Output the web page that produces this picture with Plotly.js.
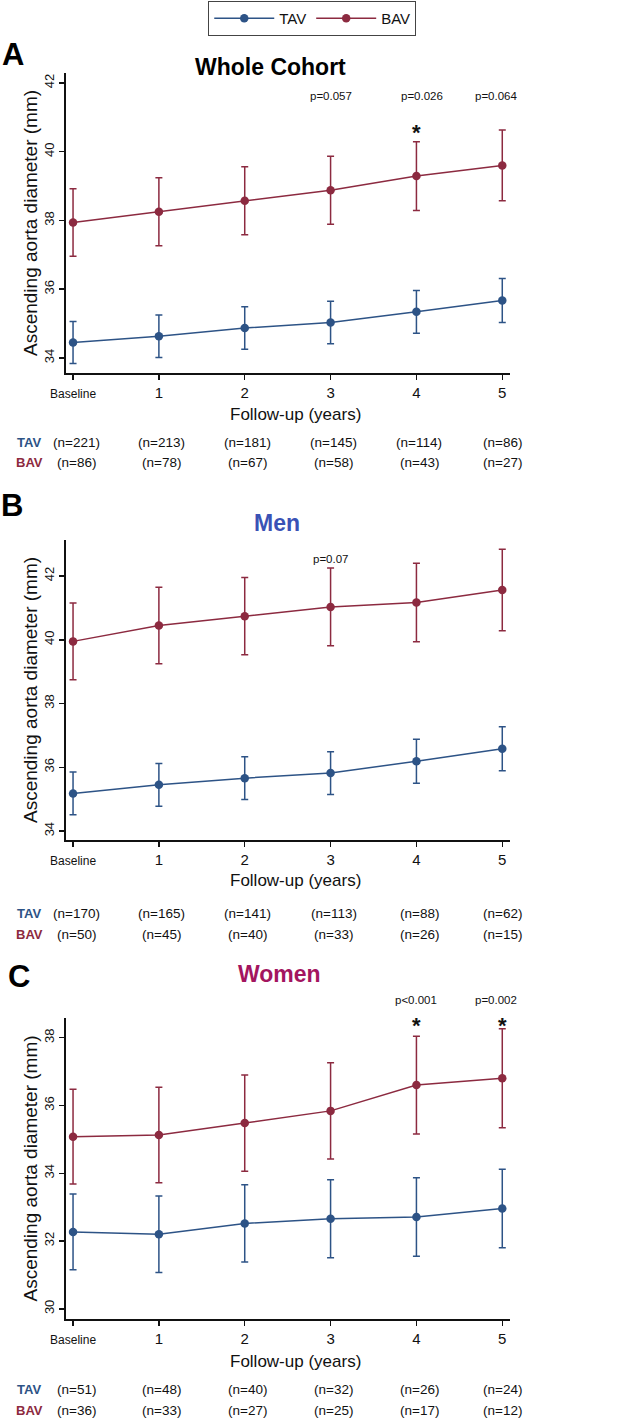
<!DOCTYPE html>
<html><head><meta charset="utf-8">
<script src="https://cdn.plot.ly/plotly-3.0.1.min.js"></script>
<style>html,body{margin:0;padding:0;background:#fff}</style>
</head><body><div id="chart" style="width:622px;height:1420px"></div>
<script>
// ---- data ----
const years = [0, 1, 2, 3, 4, 5];
const tickLabels = ['Baseline', '1', '2', '3', '4', '5'];

// Panel A: whole cohort
const tavA = [34.45, 34.63, 34.87, 35.03, 35.34, 35.67];
const tavAErr = [0.61, 0.62, 0.62, 0.62, 0.62, 0.64];
const bavA = [37.94, 38.25, 38.57, 38.88, 39.29, 39.60];
const bavAErr = [0.98, 0.99, 0.99, 0.99, 1.00, 1.03];
const nTavA = [221, 213, 181, 145, 114, 86];
const nBavA = [86, 78, 67, 58, 43, 27];

// Panel B: men
const tavB = [35.18, 35.45, 35.66, 35.82, 36.19, 36.58];
const tavBErr = [0.67, 0.67, 0.67, 0.67, 0.69, 0.69];
const bavB = [39.95, 40.45, 40.74, 41.03, 41.17, 41.56];
const bavBErr = [1.20, 1.20, 1.21, 1.22, 1.23, 1.28];
const nTavB = [170, 165, 141, 113, 88, 62];
const nBavB = [50, 45, 40, 33, 26, 15];

// Panel C: women
const tavC = [32.27, 32.20, 32.52, 32.66, 32.71, 32.96];
const tavCErr = [1.12, 1.13, 1.14, 1.15, 1.16, 1.16];
const bavC = [35.08, 35.13, 35.48, 35.84, 36.60, 36.80];
const bavCErr = [1.40, 1.41, 1.42, 1.42, 1.44, 1.46];
const nTavC = [51, 48, 40, 32, 26, 24];
const nBavC = [36, 33, 27, 25, 17, 12];

// p-values: [year, label, star]
const pA = [[3, 'p=0.057', false], [4, 'p=0.026', true], [5, 'p=0.064', false]];
const pB = [[3, 'p=0.07', false]];
const pC = [[4, 'p<0.001', true], [5, 'p=0.002', true]];

const panelTitles = ['Whole Cohort', 'Men', 'Women'];
const panelLetters = ['A', 'B', 'C'];
const seriesNames = ['TAV', 'BAV'];
const xTitle = 'Follow-up (years)';
const yTitle = 'Ascending aorta diameter (mm)';

// ---- styles ----
const W = 622, H = 1420;
const px = v => v / W;
const py = v => 1 - v / H;
const C_TAV = '#2d5386';
const C_BAV = '#8c2a40';
const FONT = '"Liberation Sans", Arial, Helvetica, sans-serif';
const titleColors = ['#000000', '#3a52b5', '#a3155f'];

const panels = [
  {tav: tavA, tavErr: tavAErr, bav: bavA, bavErr: bavAErr, nT: nTavA, nB: nBavA, p: pA,
   top: 73, bot: 373, yr: [33.56, 42.29], titleX: 270, titleY: 67, letterY: 55, letterX: 13,
   nRowT: 442, nRowB: 462, pY: 96, starY: 133, xTitleY: 414},
  {tav: tavB, tavErr: tavBErr, bav: bavB, bavErr: bavBErr, nT: nTavB, nB: nBavB, p: pB,
   top: 540, bot: 840, yr: [33.72, 43.13], titleX: 277, titleY: 523, letterY: 506, letterX: 12,
   nRowT: 913, nRowB: 934, pY: 559, starY: 0, xTitleY: 881},
  {tav: tavC, tavErr: tavCErr, bav: bavC, bavErr: bavCErr, nT: nTavC, nB: nBavC, p: pC,
   top: 1018, bot: 1319, yr: [29.7, 38.58], titleX: 279, titleY: 974, letterY: 976, letterX: 19,
   nRowT: 1389, nRowB: 1410, pY: 1000, starY: 1025, xTitleY: 1361}
];

const traces = [];
const layout = {
  width: W, height: H,
  margin: {l: 0, r: 0, t: 0, b: 0},
  paper_bgcolor: '#fff', plot_bgcolor: '#fff',
  font: {family: FONT, color: '#111'},
  showlegend: true,
  legend: {orientation: 'h', x: 0.502, xanchor: 'center', y: py(1), yanchor: 'top',
           bordercolor: '#444', borderwidth: 1, font: {size: 15, color: '#111'},
           itemwidth: 60, tracegroupgap: 0},
  annotations: []
};

const tickText = tickLabels.map(t => t === 'Baseline' ? '<span style="font-size:12px">' + t + '</span>' : t);

function ann(o) {
  layout.annotations.push(Object.assign({showarrow: false, xanchor: 'center', yanchor: 'middle'}, o));
}

panels.forEach((P, k) => {
  const s = k === 0 ? '' : String(k + 1);
  const xa = 'x' + s, ya = 'y' + s;
  [[P.tav, P.tavErr, C_TAV, seriesNames[0]], [P.bav, P.bavErr, C_BAV, seriesNames[1]]].forEach(([vals, err, col, name]) => {
    traces.push({
      type: 'scatter', mode: 'lines+markers', x: years, y: vals, name: name,
      xaxis: xa, yaxis: ya, showlegend: k === 0, cliponaxis: false,
      line: {color: col, width: 1.5},
      marker: {color: col, size: 8.5},
      error_y: {type: 'data', array: err, visible: true, color: col, thickness: 1.5, width: 3.5}
    });
  });
  layout['xaxis' + s] = {
    domain: [px(66), px(510)], range: [-0.082, 5.09], anchor: ya,
    tickmode: 'array', tickvals: years, ticktext: tickText,
    showline: true, linewidth: 2, linecolor: '#111', mirror: false,
    ticks: 'outside', ticklen: 5, tickwidth: 1.5, tickcolor: '#111',
    showgrid: false, zeroline: false, tickfont: {size: 15, color: '#111'}
  };
  layout['yaxis' + s] = {
    domain: [py(P.bot), py(P.top)], range: P.yr, anchor: xa,
    dtick: 2, tick0: 0, tickangle: -90,
    showline: true, linewidth: 2, linecolor: '#111',
    ticks: 'outside', ticklen: 5, tickwidth: 1.5, tickcolor: '#111',
    showgrid: false, zeroline: false, tickfont: {size: 13, color: '#111'}
  };
  // axis titles
  ann({xref: 'paper', yref: 'paper', x: px(295), y: py(P.xTitleY), text: xTitle,
       font: {size: 17, color: '#111'}});
  ann({xref: 'paper', yref: 'paper', x: px(30), y: py((P.top + P.bot) / 2), text: yTitle,
       textangle: -90, font: {size: 19, color: '#111'}});
  // panel title
  ann({xref: 'paper', yref: 'paper', x: px(P.titleX), y: py(P.titleY),
       text: '<b>' + panelTitles[k] + '</b>', font: {size: 23, color: titleColors[k]}});
  // panel letter
  ann({xref: 'paper', yref: 'paper', x: px(P.letterX), y: py(P.letterY),
       text: '<b>' + panelLetters[k] + '</b>', font: {size: 31, color: '#000'}});
  // n rows
  ann({xref: 'paper', yref: 'paper', x: px(29), y: py(P.nRowT),
       text: '<b>' + seriesNames[0] + '</b>', font: {size: 13, color: C_TAV}});
  ann({xref: 'paper', yref: 'paper', x: px(29), y: py(P.nRowB),
       text: '<b>' + seriesNames[1] + '</b>', font: {size: 13, color: C_BAV}});
  years.forEach((yv, i) => {
    ann({xref: xa, yref: 'paper', x: yv, y: py(P.nRowT), xshift: i < 5 ? 3 : 0,
         text: '(n=' + P.nT[i] + ')', font: {size: 13.5, color: '#111'}});
    ann({xref: xa, yref: 'paper', x: yv, y: py(P.nRowB), xshift: i < 5 ? 3 : 0,
         text: '(n=' + P.nB[i] + ')', font: {size: 13.5, color: '#111'}});
  });
  // p-values
  P.p.forEach(([yv, lab, star]) => {
    const sh = yv === 5 ? -6 : (yv === 4 && k === 0 ? 6 : 0);
    ann({xref: xa, yref: 'paper', x: yv, y: py(P.pY), xshift: sh,
         text: lab, font: {size: 11.5, color: '#111'}});
    if (star) {
      ann({xref: xa, yref: 'paper', x: yv, y: py(P.starY),
           text: '<b>*</b>', font: {size: 22, color: '#111'}});
    }
  });
});

Plotly.newPlot('chart', traces, layout, {displayModeBar: false, staticPlot: true});
</script>
</body></html>
